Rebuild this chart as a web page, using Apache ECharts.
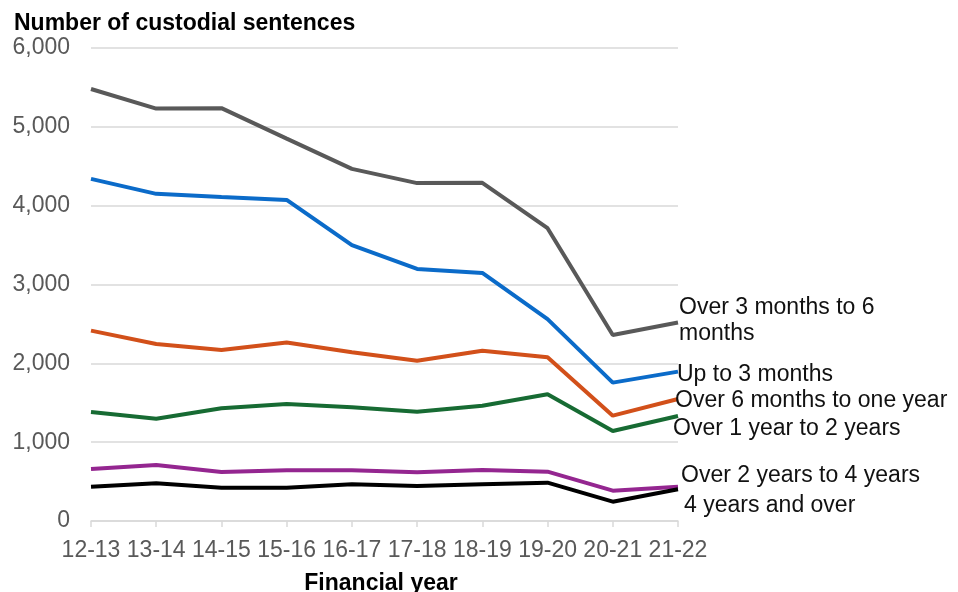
<!DOCTYPE html>
<html>
<head>
<meta charset="utf-8">
<script src="https://cdn.jsdelivr.net/npm/echarts@6/dist/echarts.min.js"></script>
<style>
  html, body { margin: 0; padding: 0; background: #fff; }
  #chart { width: 958px; height: 592px; }
</style>
</head>
<body>
<div id="chart"></div>
<script>
// Financial years on the x axis
const years = ['12-13', '13-14', '14-15', '15-16', '16-17', '17-18', '18-19', '19-20', '20-21', '21-22'];

// Custodial sentences by sentence length
const over3to6Months = [5480, 5232, 5237, 4850, 4467, 4286, 4290, 3714, 2360, 2517];
const upTo3Months = [4340, 4150, 4110, 4073, 3500, 3198, 3147, 2560, 1755, 1895];
const over6MonthsTo1Year = [2415, 2246, 2170, 2263, 2141, 2034, 2160, 2077, 1336, 1548];
const over1To2Years = [1383, 1298, 1430, 1485, 1443, 1387, 1463, 1608, 1142, 1332];
const over2To4Years = [660, 711, 622, 643, 643, 618, 647, 626, 385, 435];
const fourYearsAndOver = [435, 478, 423, 423, 465, 444, 465, 486, 245, 402];

const yTicks = [0, 1000, 2000, 3000, 4000, 5000, 6000];

const FONT = '"Liberation Sans", Arial, sans-serif';
const SIZE = 23;

function lineSeries(name, label, data, color, offset) {
  return {
    name: name,
    type: 'line',
    data: data,
    symbol: 'none',
    lineStyle: { color: color, width: 4 },
    itemStyle: { color: color },
    z: 2,
    endLabel: {
      show: true,
      formatter: label,
      distance: 0,
      offset: offset,
      color: '#111',
      fontFamily: FONT,
      fontSize: SIZE,
      lineHeight: 26,
      align: 'left',
      verticalAlign: 'middle'
    }
  };
}

const chart = echarts.init(document.getElementById('chart'), null, { renderer: 'canvas' });

chart.setOption({
  animation: false,
  backgroundColor: '#fff',
  title: {
    text: 'Number of custodial sentences',
    left: 9,
    top: 7,
    textStyle: { fontFamily: FONT, fontSize: SIZE, fontWeight: 'bold', color: '#000' }
  },
  grid: {
    left: 91, right: 280, top: 48, bottom: 71,
    containLabel: false,
    outerBoundsMode: 'none'
  },
  xAxis: {
    type: 'category',
    data: years,
    boundaryGap: false,
    name: 'Financial year',
    nameLocation: 'middle',
    nameGap: 51,
    nameTextStyle: {
      fontFamily: FONT, fontSize: SIZE, fontWeight: 'bold', color: '#000',
      padding: [0, 7, 0, 0]
    },
    axisLine: { lineStyle: { color: '#d9d9d9', width: 1.5 } },
    axisTick: { show: true, alignWithLabel: true, length: 6, lineStyle: { color: '#d9d9d9', width: 1.5 } },
    axisLabel: {
      color: '#595959', fontFamily: FONT, fontSize: SIZE, margin: 18,
      interval: 0
    },
    splitLine: { show: false }
  },
  yAxis: {
    type: 'value',
    min: yTicks[0],
    max: yTicks[yTicks.length - 1],
    interval: 1000,
    axisLine: { show: false },
    axisTick: { show: false },
    axisLabel: {
      color: '#595959', fontFamily: FONT, fontSize: SIZE, margin: 21,
      formatter: function (v) { return v.toLocaleString('en-GB'); }
    },
    splitLine: { lineStyle: { color: '#d9d9d9', width: 1.5 } }
  },
  series: [
    lineSeries('Over 3 months to 6 months', 'Over 3 months to 6\nmonths', over3to6Months, '#595959', [1, -2]),
    lineSeries('Up to 3 months', 'Up to 3 months', upTo3Months, '#0b6bc9', [-1, 3]),
    lineSeries('Over 6 months to one year', 'Over 6 months to one year', over6MonthsTo1Year, '#d2501a', [-3, 2]),
    lineSeries('Over 1 year to 2 years', 'Over 1 year to 2 years', over1To2Years, '#176b33', [-5, 13]),
    lineSeries('Over 2 years to 4 years', 'Over 2 years to 4 years', over2To4Years, '#942690', [3, -11]),
    lineSeries('4 years and over', '4 years and over', fourYearsAndOver, '#000000', [6, 16])
  ]
});
</script>
</body>
</html>
